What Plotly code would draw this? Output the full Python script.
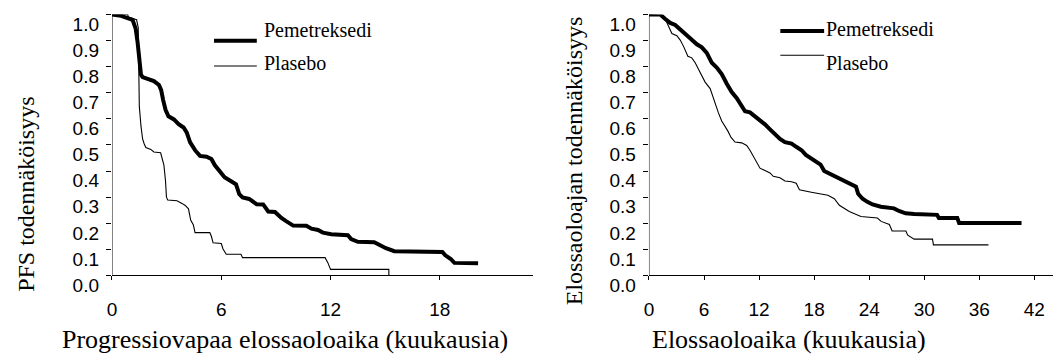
import plotly.graph_objects as go

W, H = 1060, 363

# ---------------- data ----------------
pfs_pem_t = [0, 0.5, 1.13, 1.3, 1.4, 1.5, 1.59, 1.68, 1.95, 2.3, 2.58, 2.7, 2.81, 2.94, 3.1, 3.4,
             3.66, 3.93, 4.1, 4.29, 4.56, 4.83, 5.19, 5.46, 5.64, 5.9, 6.18, 6.54, 6.81, 6.99, 7.17,
             7.53, 7.71, 7.94, 8.3, 8.58, 8.95, 9.3, 9.58, 9.95, 10.67, 10.95, 11.31, 11.58, 12.04,
             12.95, 13.13, 13.5, 14.4, 14.68, 15.04, 15.5, 18.14, 18.3, 18.6, 18.8, 20.1]
pfs_pem_p = [1.0, 0.995, 0.98, 0.946, 0.897, 0.82, 0.77, 0.76, 0.753, 0.745, 0.73, 0.71, 0.672, 0.635,
             0.61, 0.598, 0.58, 0.567, 0.548, 0.51, 0.48, 0.458, 0.455, 0.446, 0.423, 0.40, 0.376,
             0.361, 0.349, 0.311, 0.299, 0.293, 0.286, 0.273, 0.272, 0.245, 0.243, 0.22, 0.207, 0.191,
             0.19, 0.179, 0.174, 0.164, 0.158, 0.154, 0.139, 0.129, 0.127, 0.117, 0.104, 0.093, 0.09,
             0.077, 0.063, 0.048, 0.047]

pfs_pla_t = [0, 0.86, 0.9, 1.35, 1.44, 1.46, 1.5, 1.59, 1.68, 1.77, 1.86, 2.13, 2.3, 2.67, 2.76, 2.85,
             2.94, 2.99, 3.06, 3.57, 3.84, 4.02, 4.2, 4.32, 4.47, 4.56, 5.37, 5.46, 5.55, 6.0, 6.09,
             6.27, 7.08, 7.17, 11.7, 11.85, 12.0, 15.2, 15.2]
pfs_pla_p = [1.0, 1.0, 0.99, 0.98, 0.95, 0.77, 0.648, 0.573, 0.523, 0.504, 0.49, 0.483, 0.473, 0.47,
             0.448, 0.423, 0.361, 0.30, 0.289, 0.286, 0.276, 0.268, 0.255, 0.212, 0.193, 0.164, 0.164,
             0.149, 0.125, 0.122, 0.102, 0.081, 0.081, 0.068, 0.068, 0.049, 0.023, 0.023, 0.0]

os_pem_t = [0, 1.23, 1.78, 2.32, 2.86, 3.41, 3.95, 4.49, 5.22, 5.76, 6.3, 6.85, 7.39, 7.93, 8.48, 9.02,
            9.57, 10.11, 10.47, 11.01, 11.56, 12.1, 12.64, 13.19, 13.73, 14.28, 14.82, 15.54, 16.09,
            16.63, 17.1, 18.0, 18.7, 19.1, 19.8, 20.57, 21.3, 22.0, 22.56, 22.8, 23.28, 23.8, 24.37,
            25.27, 26.7, 27.25, 27.97, 28.9, 31.4, 31.6, 33.6, 33.8, 40.6]
os_pem_p = [1.0, 1.0, 0.983, 0.968, 0.96, 0.944, 0.927, 0.909, 0.886, 0.874, 0.853, 0.815, 0.797,
            0.772, 0.735, 0.703, 0.679, 0.647, 0.629, 0.625, 0.61, 0.598, 0.579, 0.56, 0.542, 0.523,
            0.511, 0.505, 0.492, 0.48, 0.462, 0.443, 0.425, 0.40, 0.387, 0.375, 0.362, 0.35, 0.34,
            0.313, 0.294, 0.282, 0.272, 0.263, 0.257, 0.247, 0.238, 0.235, 0.232, 0.22, 0.22, 0.201,
            0.201]

os_pla_t = [0, 1.41, 1.78, 2.14, 2.5, 3.04, 3.41, 3.77, 4.24, 4.67, 5.04, 5.4, 5.76, 6.12, 6.67, 6.96,
            7.21, 7.57, 7.93, 8.3, 8.59, 8.95, 9.38, 10.11, 10.65, 11.01, 11.38, 11.74, 12.1, 12.64,
            13.19, 13.55, 14.28, 14.82, 15.54, 16.05, 16.4, 17.7, 18.8, 19.5, 20.2, 20.75, 21.83,
            23.1, 24.9, 25.3, 26.2, 26.5, 28.0, 28.2, 28.9, 30.9, 31.0, 37.0]
os_pla_p = [1.0, 0.996, 0.983, 0.958, 0.927, 0.919, 0.902, 0.878, 0.84, 0.834, 0.815, 0.79, 0.766,
            0.741, 0.716, 0.685, 0.654, 0.623, 0.592, 0.573, 0.554, 0.529, 0.511, 0.508, 0.498, 0.48,
            0.455, 0.436, 0.411, 0.402, 0.393, 0.38, 0.374, 0.362, 0.359, 0.353, 0.328, 0.319, 0.313,
            0.307, 0.294, 0.269, 0.245, 0.226, 0.22, 0.207, 0.195, 0.17, 0.17, 0.154, 0.139, 0.139,
            0.117, 0.117]

series_names = ["Pemetreksedi", "Plasebo"]
y_tickvals = [0.0, 0.1, 0.2, 0.3, 0.4, 0.5, 0.6, 0.7, 0.8, 0.9, 1.0]
y_ticktext = ["0.0", "0.1", "0.2", "0.3", "0.4", "0.5", "0.6", "0.7", "0.8", "0.9", "1.0"]
x_ticks_pfs = [0, 6, 12, 18]
x_ticks_os = [0, 6, 12, 18, 24, 30, 36, 42]
title_x_pfs = "Progressiovapaa elossaoloaika (kuukausia)"
title_y_pfs = "PFS todennäköisyys"
title_x_os = "Elossaoloaika (kuukausia)"
title_y_os = "Elossaoloajan todennäköisyys"

# ---------------- figure ----------------
def fx(px):
    return px / W

def fy(py):
    return 1 - py / H

SANS = "Liberation Sans, Arial, sans-serif"
SERIF = "Liberation Serif, Times New Roman, serif"

# geometry (pixels)
Y_TOP, Y_ZERO, LABEL_DROP = 15, 284, 10
unit = Y_ZERO - Y_TOP                    # pixels for probability 0 -> 1
ext = LABEL_DROP / unit                  # extra range below 0 so labels can sit lower

fig = go.Figure()
THICK, THIN = 4, 1.1
fig.add_trace(go.Scatter(x=pfs_pem_t, y=pfs_pem_p, mode="lines", name=series_names[0],
                         line=dict(color="black", width=THICK), xaxis="x", yaxis="y", showlegend=False))
fig.add_trace(go.Scatter(x=pfs_pla_t, y=pfs_pla_p, mode="lines", name=series_names[1],
                         line=dict(color="black", width=THIN), xaxis="x", yaxis="y", showlegend=False))
fig.add_trace(go.Scatter(x=os_pem_t, y=os_pem_p, mode="lines", name=series_names[0],
                         line=dict(color="black", width=THICK), xaxis="x2", yaxis="y2", showlegend=False))
fig.add_trace(go.Scatter(x=os_pla_t, y=os_pla_p, mode="lines", name=series_names[1],
                         line=dict(color="black", width=THIN), xaxis="x2", yaxis="y2", showlegend=False))
# empty traces binding the label-only overlay axes
fig.add_trace(go.Scatter(x=[None], y=[None], xaxis="x", yaxis="y3", showlegend=False, hoverinfo="skip"))
fig.add_trace(go.Scatter(x=[None], y=[None], xaxis="x2", yaxis="y4", showlegend=False, hoverinfo="skip"))

ydom = [fy(Y_ZERO + LABEL_DROP), fy(Y_TOP)]
common_x = dict(showline=True, linecolor="black", linewidth=1, ticks="outside", ticklen=4,
                tickwidth=1, tickcolor="black", showgrid=False, zeroline=False,
                tickfont=dict(family=SANS, size=19, color="black"), ticklabelstandoff=13,
                anchor="free", position=fy(Y_ZERO))
common_y = dict(showline=False, ticks="outside", ticklen=5,
                tickwidth=1, tickcolor="black", showgrid=False, zeroline=False,
                tickvals=y_tickvals, range=[-ext, 1], domain=ydom, showticklabels=False)
label_y = dict(showline=False, ticks="", showgrid=False, zeroline=False, range=[0, 1 + ext],
               tickvals=y_tickvals, ticktext=y_ticktext, side="left",
               tickfont=dict(family=SANS, size=19, color="black"), ticklabelstandoff=12)

x1_left, x1_right = 107.5, 530
x2_left, x2_right = 647, 1053
fig.update_layout(
    width=W, height=H, autosize=False,
    margin=dict(l=0, r=0, t=0, b=0),
    paper_bgcolor="white", plot_bgcolor="white",
    xaxis=dict(common_x, domain=[fx(x1_left), fx(x1_right)], range=[0, (x1_right - x1_left) / 18.3],
               tickvals=x_ticks_pfs),
    yaxis=dict(common_y, anchor="x"),
    yaxis3=dict(label_y, anchor="x", overlaying="y"),
    xaxis2=dict(common_x, domain=[fx(x2_left), fx(x2_right)], range=[0, (x2_right - x2_left) / 9.22],
                tickvals=x_ticks_os),
    yaxis2=dict(common_y, anchor="x2"),
    yaxis4=dict(label_y, anchor="x2", overlaying="y2"),
)

# y-axis lines (from 0 to 1 only, meeting the x axis)
for xr, yr in (("x", "y"), ("x2", "y2")):
    fig.add_shape(type="line", xref=xr, yref=yr, x0=0, x1=0, y0=0, y1=1,
                  line=dict(color="black", width=1))

# axis titles
ann = [
    dict(text=title_x_pfs, x=fx(281), y=fy(350), font=dict(family=SERIF, size=26, color="black")),
    dict(text=title_x_os, x=fx(788), y=fy(350), font=dict(family=SERIF, size=26, color="black")),
    dict(text=title_y_pfs, x=fx(21), y=fy(200), textangle=-90, font=dict(family=SERIF, size=24, color="black")),
    dict(text=title_y_os, x=fx(572), y=fy(166), textangle=-90, font=dict(family=SERIF, size=24, color="black")),
]
for a in ann:
    a.update(xref="paper", yref="paper", showarrow=False, xanchor="center", yanchor="middle")
    fig.add_annotation(**a)

# legends (one per panel)
legend_specs = [
    # (line x0, line x1, thick y, thin y, text x, text1 y, text2 y)
    (210, 253, 42, 68, 258, 31, 65),
    (779, 823, 32, 57, 823, 30, 65),
]
for (lx0, lx1, ty, ny, tx, t1y, t2y) in legend_specs:
    fig.add_shape(type="line", xref="paper", yref="paper", x0=fx(lx0), x1=fx(lx1), y0=fy(ty), y1=fy(ty),
                  line=dict(color="black", width=THICK))
    fig.add_shape(type="line", xref="paper", yref="paper", x0=fx(lx0), x1=fx(lx1), y0=fy(ny), y1=fy(ny),
                  line=dict(color="black", width=THIN))
    for name, yy in zip(series_names, [t1y, t2y]):
        fig.add_annotation(text=name, x=fx(tx), y=fy(yy), xref="paper", yref="paper", showarrow=False,
                           xanchor="left", yanchor="middle",
                           font=dict(family=SERIF, size=20, color="black"))

fig.write_html("out.html")
